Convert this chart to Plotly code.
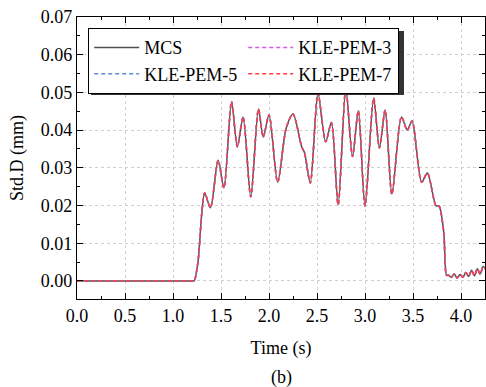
import plotly.graph_objects as go

# ---- data ----
time_s = [0.0, 0.6, 1.2, 1.22, 1.26, 1.30, 1.33, 1.39, 1.47, 1.53, 1.61, 1.67, 1.73, 1.81,
          1.89, 1.94, 2.00, 2.09, 2.18, 2.25, 2.34, 2.37, 2.43, 2.51, 2.59, 2.65, 2.72,
          2.80, 2.87, 2.93, 3.00, 3.09, 3.15, 3.21, 3.28, 3.38, 3.44, 3.49, 3.59, 3.65,
          3.74, 3.77, 3.82, 3.85, 3.87, 3.90, 3.93, 3.96, 3.99, 4.02, 4.05, 4.08, 4.11,
          4.14, 4.17, 4.20, 4.23, 4.26]
mcs = [0.0, 0.0, 0.0, 0.0, 0.005, 0.018, 0.0233, 0.0194, 0.0320, 0.0247, 0.0475, 0.0356,
       0.0435, 0.0223, 0.0456, 0.0382, 0.0440, 0.0262, 0.0406, 0.0443, 0.0356, 0.0340,
       0.0260, 0.0498, 0.0369, 0.0420, 0.0202, 0.0510, 0.0330, 0.0451, 0.0199, 0.0485,
       0.0353, 0.0453, 0.0230, 0.0435, 0.0400, 0.0424, 0.0262, 0.0286, 0.0199, 0.0199,
       0.0130, 0.0015, 0.0015, 0.0010, 0.0018, 0.0008, 0.0017, 0.0010, 0.0022, 0.0012,
       0.0028, 0.0014, 0.0032, 0.0018, 0.0038, 0.0030]
kle_pem_3 = list(mcs)
kle_pem_5 = list(mcs)
kle_pem_7 = list(mcs)

series = [
    ("MCS", mcs, "#505050", "solid"),
    ("KLE-PEM-3", kle_pem_3, "#d659e8", "4px,3px"),
    ("KLE-PEM-5", kle_pem_5, "#5b8bd6", "4px,3px"),
    ("KLE-PEM-7", kle_pem_7, "#ff3d3d", "4px,3px"),
]

FONT = "Liberation Serif"
W, H = 486, 387
L, R, T, B = 77, 1, 17, 88
pw, ph = W - L - R, H - T - B

def px(x):
    return (x - L) / pw

def py(y):
    return (H - B - y) / ph

fig = go.Figure()
for name, vals, color, dash in series:
    fig.add_trace(go.Scatter(x=time_s, y=vals, name=name, mode="lines",
                             line=dict(color=color, width=1.5, dash=dash, shape="spline",
                                       smoothing=0.8)))

# legend shadow
fig.add_shape(type="rect", xref="paper", yref="paper",
              x0=px(91), x1=px(404), y0=py(95), y1=py(31),
              fillcolor="#333333", line=dict(width=0), layer="above")

axis_common = dict(showline=True, linecolor="black", linewidth=1.2, mirror="allticks",
                   ticks="inside", ticklen=6, tickcolor="black", showgrid=True,
                   gridcolor="#cfcfcf", griddash="dot", gridwidth=1, zeroline=False,
                   tickfont=dict(family=FONT, size=18, color="black"))

fig.update_xaxes(range=[0, 4.25], dtick=0.5, tick0=0, tickformat=".1f",
                 minor=dict(dtick=0.25, ticks="inside", ticklen=3, tickcolor="black", showgrid=False),
                 title=dict(text="Time (s)", font=dict(family=FONT, size=18, color="black"), standoff=16),
                 **axis_common)
fig.update_yaxes(range=[-0.0048, 0.07], dtick=0.01, tick0=0, tickformat=".2f",
                 minor=dict(dtick=0.005, ticks="inside", ticklen=3, tickcolor="black", showgrid=False),
                 title=dict(text="Std.D (mm)", font=dict(family=FONT, size=18, color="black"), standoff=12),
                 **axis_common)

fig.add_annotation(text="(b)", xref="paper", yref="paper", x=0.5, y=py(377),
                   showarrow=False, yanchor="middle",
                   font=dict(family=FONT, size=18, color="black"))

fig.update_layout(
    width=W, height=H,
    margin=dict(l=L, r=R, t=T, b=B),
    paper_bgcolor="white", plot_bgcolor="white",
    font=dict(family=FONT, color="black"),
    showlegend=True,
    legend=dict(orientation="h", x=px(88), y=py(28), xanchor="left", yanchor="top",
                bgcolor="white", bordercolor="black", borderwidth=1.2,
                font=dict(family=FONT, size=18, color="black"),
                entrywidth=94, entrywidthmode="pixels", itemwidth=45,
                tracegroupgap=0),
)

fig.write_html("out.html")
